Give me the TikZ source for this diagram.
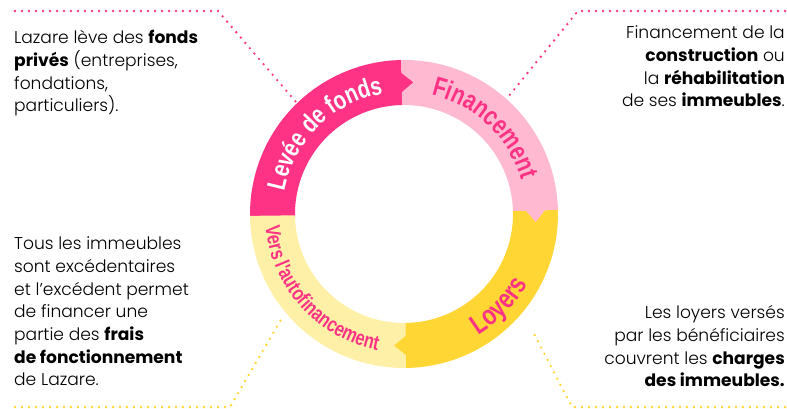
\documentclass[tikz,border=0pt]{standalone}
\usepackage{fontspec}
\setmainfont{Poppins Light}[BoldFont={Poppins Bold}]
\newfontfamily\ringfont[FakeStretch=0.78]{Liberation Sans}
\usepackage{tikz}
\usetikzlibrary{decorations.text,positioning}

\definecolor{lzpink}{HTML}{FF3385}
\definecolor{lzrose}{HTML}{FFBAD1}
\definecolor{lzgold}{HTML}{FFD633}
\definecolor{lzcream}{HTML}{FFF0A8}

\tikzset{
  blurb/.style={inner sep=0pt, font=\fontsize{17.1}{22.7}\selectfont},
  dots/.style={line width=2.6pt, line cap=round, dash pattern=on 0pt off 7pt},
}

\begin{document}
\begin{tikzpicture}[x=1pt,y=1pt]
    \useasboundingbox (0,0) rectangle (787,409);

    % ring
    \begin{scope}[shift={(404,195)}]
        \fill[lzpink] (182.2:154) arc[start angle=182.2, end angle=91, radius=154] -- (91:109) arc[start angle=91, end angle=182.2, radius=109] -- cycle;
        \fill[lzrose] (91:154) arc[start angle=91, end angle=1.5, radius=154] -- (1.5:109) arc[start angle=1.5, end angle=91, radius=109] -- cycle;
        \fill[lzgold] (1.5:154) arc[start angle=1.5, end angle=-89.3, radius=154] -- (-89.3:109) arc[start angle=-89.3, end angle=1.5, radius=109] -- cycle;
        \fill[lzcream] (-89.3:154) arc[start angle=-89.3, end angle=-179.3, radius=154] -- (-179.3:109) arc[start angle=-179.3, end angle=-89.3, radius=109] -- cycle;

        % arrow tips between the parts
        \fill[lzpink] (91.6:121) -- (86:132) -- (91.6:142) -- cycle;
        \fill[lzrose] (2.1:121) -- (-3.5:132) -- (2.1:142) -- cycle;
        \fill[lzgold] (-88.7:121) -- (-94.3:132) -- (-88.7:142) -- cycle;

        \path[decorate, decoration={text along path, text align=center,
            text={|\color{white}\ringfont\bfseries\fontsize{26}{26}\selectfont|Levée de fonds}}]
            (180:122) arc[start angle=180, end angle=89, radius=122];
        \path[decorate, decoration={text along path, text align=center,
            text={|\color{lzpink}\ringfont\bfseries\fontsize{27}{27}\selectfont|Financement}}]
            (94:122) arc[start angle=94, end angle=-1, radius=122];
        \path[decorate, decoration={text along path, text align=center,
            text={|\color{lzpink}\ringfont\bfseries\fontsize{28}{28}\selectfont|Loyers}}]
            (-89:142) arc[start angle=-89, end angle=1, radius=142];
        \path[decorate, decoration={text along path, text align=center,
            text={|\color{lzpink}\ringfont\bfseries\fontsize{21}{21}\selectfont|Vers l'autofinancement}}]
            (178:139) arc[start angle=178, end angle=266, radius=139];
    \end{scope}

    % texts (base = last line)
    \node[blurb, anchor=base west, align=left] (fonds) at (14,297)
        {Lazare lève des \textbf{fonds}\\\textbf{privés} (entreprises,\\fondations,\\particuliers).};
    \node[blurb, anchor=base east, align=right] (travaux) at (785,302)
        {Financement de la\\\textbf{construction} ou\\la \textbf{réhabilitation}\\de ses \textbf{immeubles}.};
    \node[blurb, anchor=base west, align=left] (surplus) at (14,23)
        {Tous les immeubles\\sont excédentaires\\et l’excédent permet\\de financer une\\partie des \textbf{frais}\\\textbf{de fonctionnement}\\de Lazare.};
    \node[blurb, anchor=base east, align=right] (loyers) at (785,22)
        {Les loyers versés\\par les bénéficiaires\\couvrent les \textbf{charges}\\\textbf{des immeubles.}};

    % dotted leaders
    \coordinate (tlA) at (15,398);
    \coordinate (tlB) at (218,398);
    \coordinate (tlC) at (296,307);
    \coordinate (trA) at (785,398);
    \coordinate (trB) at (578,398);
    \coordinate (trC) at (508,312);
    \coordinate (blA) at (15,2);
    \coordinate (blB) at (230,2);
    \coordinate (blC) at (282,91);
    \coordinate (brA) at (785,2);
    \coordinate (brB) at (572,2);
    \coordinate (brC) at (532,79);

    \draw[dots, lzpink] (tlA) -- (tlB) -- (tlC);
    \draw[dots, lzpink] (trA) -- (trB) -- (trC);
    \draw[dots, lzgold] (blA) -- (blB) -- (blC);
    \draw[dots, lzgold] (brA) -- (brB) -- (brC);
\end{tikzpicture}
\end{document}
